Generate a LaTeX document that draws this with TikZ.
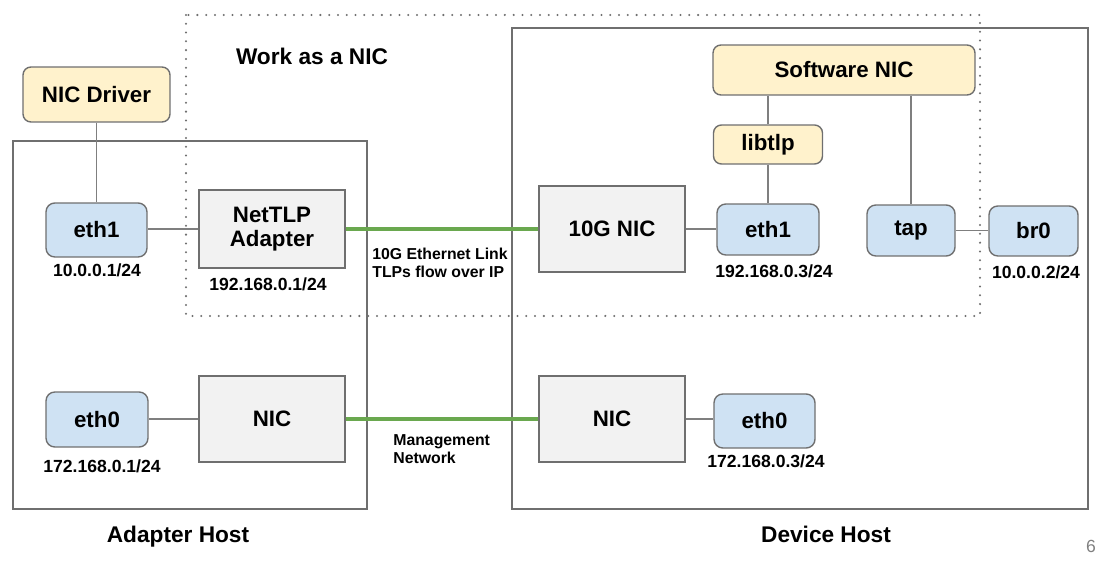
\documentclass[tikz,border=0pt]{standalone}
\usepackage{fontspec}
\setmainfont{Liberation Sans}
\usepackage{xcolor}
\usetikzlibrary{positioning}

\definecolor{boxgray}{HTML}{6F6F6F}
\definecolor{wiregray}{HTML}{7F7F7F}
\definecolor{nicfill}{HTML}{F2F2F2}
\definecolor{swfill}{HTML}{FFF2CC}
\definecolor{ethfill}{HTML}{CFE2F3}
\definecolor{linkgreen}{HTML}{6AA84F}

\tikzset{
  hostbox/.style={draw=boxgray, line width=0.8pt},
  workbox/.style={draw=boxgray, line width=1.3pt, line cap=round, dash pattern=on 0pt off 5pt},
  nicbox/.style={draw=boxgray, fill=nicfill, line width=0.8pt, font=\bfseries\fontsize{12.7}{14.5}\selectfont, align=center, inner sep=0pt},
  swbox/.style={draw=boxgray, fill=swfill, line width=0.8pt, rounded corners=4.5pt, font=\bfseries\fontsize{12.7}{14.5}\selectfont, inner sep=0pt},
  ethbox/.style={draw=boxgray, fill=ethfill, line width=0.8pt, rounded corners=5pt, font=\bfseries\fontsize{12.7}{14.5}\selectfont, inner sep=0pt},
  addr/.style={font=\bfseries\fontsize{10}{12}\selectfont, inner sep=0pt},
  note/.style={font=\bfseries\fontsize{9}{10.5}\selectfont, align=left, anchor=west, inner sep=0pt},
  title/.style={font=\bfseries\fontsize{12.9}{15}\selectfont, inner sep=0pt, anchor=base},
  wire/.style={draw=wiregray, line width=0.7pt},
  link/.style={draw=linkgreen, line width=2pt}
}

\begin{document}
\begin{tikzpicture}[x=0.02cm, y=-0.02cm]

\useasboundingbox (0,0) rectangle (1115,567);

% host boxes and the NIC region
\draw[hostbox] (13,141) rectangle (367,509);
\draw[hostbox] (512,28) rectangle (1088,509);
\draw[workbox] (186,15) rectangle (980,316);

\node[title] (work) at (312,65) {Work as a NIC};
\node[title] (ahost) at (178,542) {Adapter Host};
\node[title] (dhost) at (826,542) {Device Host};

% adapter host
\node[swbox, minimum width=2.94cm, minimum height=1.1cm] (drv) at (96.5,94.5) {NIC Driver};
\node[ethbox, minimum width=2.02cm, minimum height=1.08cm] (aeth1) at (96.5,230) {eth1};
\node[nicbox, minimum width=2.92cm, minimum height=1.56cm] (adapter) at (272,229) {NetTLP\\[-1pt]Adapter};
\node[ethbox, minimum width=2.04cm, minimum height=1.1cm] (aeth0) at (97,419.5) {eth0};
\node[nicbox, minimum width=2.92cm, minimum height=1.72cm] (anic) at (272,419) {NIC};

\node[addr] (aeth1ip) at (97,270) {10.0.0.1/24};
\node[addr] (adapterip) at (268,284) {192.168.0.1/24};
\node[addr] (aeth0ip) at (102,466) {172.168.0.1/24};

% device host
\node[swbox, minimum width=5.24cm, minimum height=1.0cm] (swnic) at (844,70) {Software NIC};
\node[swbox, minimum width=2.18cm, minimum height=0.78cm] (libtlp) at (768,144.5) {libtlp};
\node[nicbox, minimum width=2.92cm, minimum height=1.72cm] (tgnic) at (612,229) {10G NIC};
\node[ethbox, minimum width=2.04cm, minimum height=1.02cm] (deth1) at (768,229.5) {eth1};
\node[ethbox, minimum width=1.76cm, minimum height=1.02cm] (tap) at (911,230.5) {tap};
\node[ethbox, minimum width=1.78cm, minimum height=1.0cm] (br0) at (1033.5,231) {br0};
\node[nicbox, minimum width=2.92cm, minimum height=1.72cm] (dnic) at (612,419) {NIC};
\node[ethbox, minimum width=2.02cm, minimum height=1.08cm] (deth0) at (764.5,421) {eth0};

\node[addr] (deth1ip) at (774,271) {192.168.0.3/24};
\node[addr] (br0ip) at (1036,272) {10.0.0.2/24};
\node[addr] (deth0ip) at (766,461) {172.168.0.3/24};

% connectors
\draw[wire] (drv.south) -- (aeth1.north);
\draw[wire] (adapter.west) -- (adapter.west -| aeth1.east);
\draw[wire] (anic.west) -- (anic.west -| aeth0.east);
\draw[wire] (tgnic.east) -- (tgnic.east -| deth1.west);
\draw[wire] (libtlp.north) -- (libtlp.north |- swnic.south);
\draw[wire] (libtlp.south) -- (deth1.north);
\draw[wire] (tap.north) -- (tap.north |- swnic.south);
\draw[wire] (tap.east) -- (tap.east -| br0.west);
\draw[wire] (dnic.east) -- (dnic.east -| deth0.west);

\draw[link] (adapter.east) -- (tgnic.west);
\draw[link] (anic.east) -- (dnic.west);

\node[note] (tenglabel) at (372,263) {10G Ethernet Link\\TLPs flow over IP};
\node[note] (mgmtlabel) at (393,449) {Management\\Network};

\node[font=\fontsize{10}{12}\selectfont, text=gray, inner sep=0pt] (page) at (1091,546) {6};

\end{tikzpicture}
\end{document}
